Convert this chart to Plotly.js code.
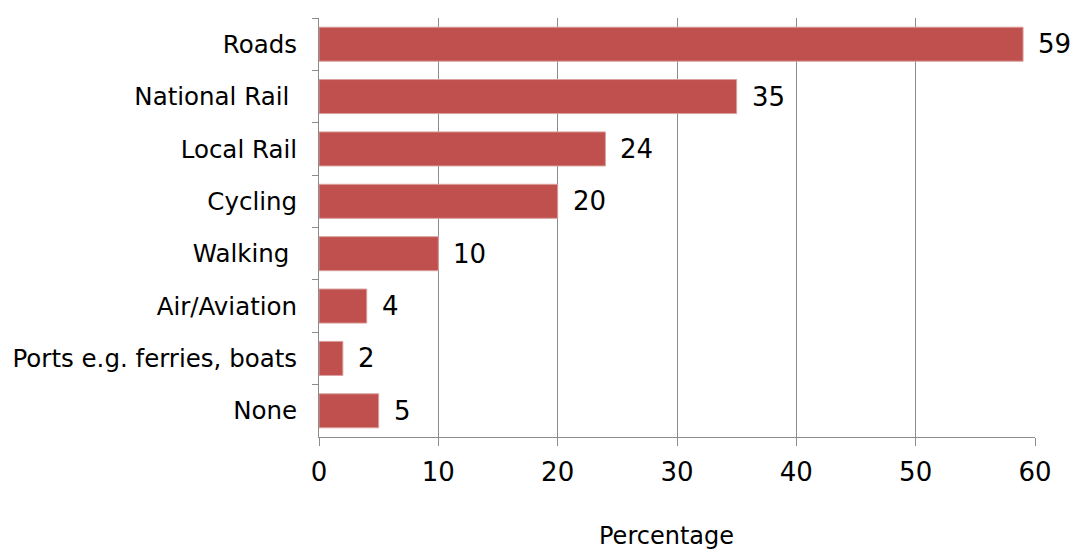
<!DOCTYPE html>
<html>
<head>
<meta charset="utf-8">
<script src="https://cdn.plot.ly/plotly-3.0.1.min.js"></script>
<style>html,body{margin:0;padding:0;background:#fff;}#chart{width:1072px;height:550px;}</style>
</head>
<body>
<div id="chart"></div>
<script>
var categories = ["Roads", "National Rail\u00a0", "Local Rail", "Cycling", "Walking\u00a0", "Air/Aviation", "Ports e.g. ferries, boats", "None"];
var values = [59, 35, 24, 20, 10, 4, 2, 5];
var xTicks = [0, 10, 20, 30, 40, 50, 60];
var xTitle = "Percentage";

var FONT = "DejaVu Sans, Verdana, sans-serif";

var trace = {
  type: "bar",
  orientation: "h",
  y: categories,
  x: values,
  marker: {color: "#C0504D", line: {color: "#D9A09E", width: 1}},
  hoverinfo: "none"
};

var annotations = values.map(function (v, i) {
  return {
    x: v, y: categories[i], xref: "x", yref: "y",
    text: String(v), showarrow: false,
    xanchor: "left", yanchor: "middle", xshift: 13,
    font: {family: FONT, size: 26, color: "#000"}
  };
});
annotations.push({
  x: 0.486, y: -0.198, xref: "paper", yref: "paper",
  text: xTitle, showarrow: false,
  xanchor: "center", yanchor: "top",
  font: {family: FONT, size: 24, color: "#000"}
});

var layout = {
  width: 1072, height: 550,
  margin: {l: 319, r: 37, t: 18, b: 113},
  paper_bgcolor: "#fff", plot_bgcolor: "#fff",
  showlegend: false,
  bargap: 0.35,
  font: {family: FONT, color: "#000"},
  annotations: annotations,
  xaxis: {
    range: [0, 60],
    tickvals: xTicks,
    ticktext: xTicks.map(String),
    tickfont: {size: 26, color: "#000"},
    showgrid: true, gridcolor: "#8c8c8c", gridwidth: 1,
    zeroline: false,
    showline: true, linecolor: "#8c8c8c", linewidth: 1,
    ticks: "outside", ticklen: 8, tickcolor: "#8c8c8c",
    ticklabelstandoff: 4
  },
  yaxis: {
    type: "category",
    autorange: "reversed",
    tickfont: {size: 24.5, color: "#000"},
    showgrid: false, zeroline: false,
    showline: true, linecolor: "#8c8c8c", linewidth: 1,
    ticks: "outside", ticklen: 6, tickcolor: "#8c8c8c",
    tickson: "boundaries",
    ticklabelstandoff: 16
  }
};

Plotly.newPlot("chart", [trace], layout, {staticPlot: true});
</script>
</body>
</html>
